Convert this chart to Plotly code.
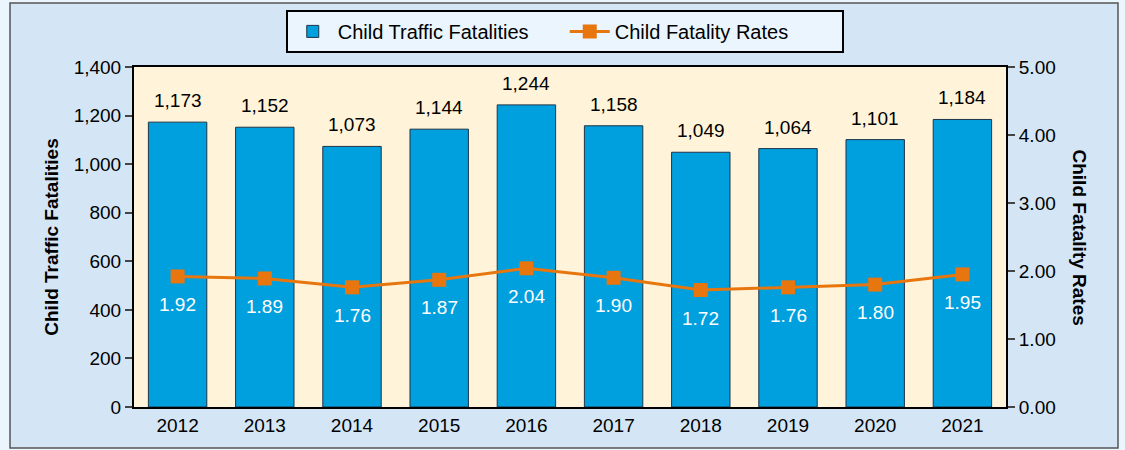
import plotly.graph_objects as go

years = ["2012", "2013", "2014", "2015", "2016", "2017", "2018", "2019", "2020", "2021"]
fatalities = [1173, 1152, 1073, 1144, 1244, 1158, 1049, 1064, 1101, 1184]
rates = [1.92, 1.89, 1.76, 1.87, 2.04, 1.90, 1.72, 1.76, 1.80, 1.95]

FONT = "Liberation Sans, Arial, sans-serif"
BAR = "#009FDD"
ORANGE = "#E8760F"
FS = 19

fig = go.Figure()
fig.add_trace(go.Bar(
    x=years, y=fatalities, name="Child Traffic Fatalities",
    marker=dict(color=BAR, line=dict(color="#1E3448", width=1)),
))
fig.add_trace(go.Scatter(
    x=years, y=rates, name="Child Fatality Rates", yaxis="y2",
    mode="lines+markers",
    line=dict(color=ORANGE, width=3),
    marker=dict(symbol="square", size=14, color=ORANGE),
))
for i, v in enumerate(fatalities):
    fig.add_annotation(x=i, y=v, xref="x", yref="y", text=f"{v:,}", showarrow=False,
                       yanchor="bottom", yshift=9,
                       font=dict(size=FS, color="black", family=FONT))
for i, r in enumerate(rates):
    fig.add_annotation(x=i, y=r, xref="x", yref="y2", text=f"{r:.2f}", showarrow=False,
                       yshift=-28, font=dict(size=FS, color="white", family=FONT))

# right axis title rotated clockwise
fig.add_annotation(xref="paper", yref="paper", x=1.0, y=0.5, xshift=86,
                   text="<b>Child Fatality Rates</b>", textangle=90, showarrow=False,
                   font=dict(size=19, color="black", family=FONT))

# outer framed box
fig.add_shape(type="rect", xref="paper", yref="paper",
              x0=(10 - 134) / 872, x1=(1118 - 134) / 872,
              y0=(407 - 448) / 340, y1=(407 - 3) / 340,
              line=dict(color="#555555", width=1.5), fillcolor="#D4E6F6", layer="below")
# cream plot background
fig.add_shape(type="rect", xref="paper", yref="paper", x0=0, x1=1, y0=0, y1=1,
              line=dict(width=0), fillcolor="#FFF4D9", layer="below")

fig.update_layout(
    width=1125, height=450,
    margin=dict(l=134, r=119, t=67, b=43, autoexpand=False),
    paper_bgcolor="#EAF5FD", plot_bgcolor="rgba(0,0,0,0)",
    font=dict(family=FONT, size=FS, color="black"),
    bargap=0.33,
    showlegend=True,
    legend=dict(orientation="h", xref="container", yref="container",
                x=0.502, xanchor="center", y=0.978, yanchor="top",
                bgcolor="#EAF5FD", bordercolor="black", borderwidth=2,
                font=dict(size=20, family=FONT), itemwidth=40,
                entrywidth=222, entrywidthmode="pixels",
                traceorder="normal"),
    xaxis=dict(type="category", range=[-0.5, len(years) - 0.5], autorange=False,
               showline=True, linecolor="black", linewidth=2, mirror=True,
               ticks="", tickfont=dict(size=FS), showgrid=False, automargin=False),
    yaxis=dict(range=[0, 1400], dtick=200, tickformat=",", showline=True,
               linecolor="black", linewidth=2, ticks="outside", ticklen=7,
               tickwidth=2, showgrid=False, zeroline=False, automargin=False,
               title=dict(text="<b>Child Traffic Fatalities</b>", font=dict(size=19), standoff=10),
               tickfont=dict(size=FS)),
    yaxis2=dict(range=[0, 5], dtick=1, tickformat=".2f", overlaying="y", side="right",
                showline=True, linecolor="black", linewidth=2, ticks="outside",
                ticklen=7, tickwidth=2, showgrid=False, zeroline=False, automargin=False,
                tickfont=dict(size=FS)),
)

fig.write_html("out.html", config={"displayModeBar": False},
               post_script="document.body.style.margin='0';")
